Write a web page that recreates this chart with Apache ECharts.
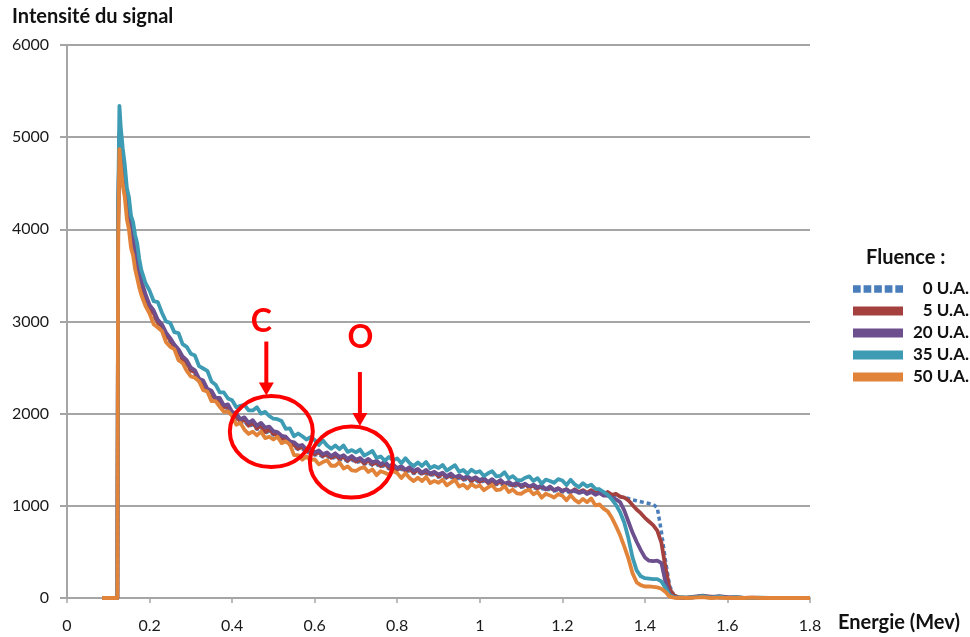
<!DOCTYPE html>
<html><head><meta charset="utf-8">
<script src="https://cdn.jsdelivr.net/npm/echarts@6/dist/echarts.min.js"></script>
<style>html,body{margin:0;padding:0;background:#fff}#c{width:970px;height:637px}</style>
</head><body><div id="c"></div>
<script>
// Energy (MeV) sample positions
const energy = [0.085, 0.122, 0.124, 0.127, 0.13, 0.135, 0.14, 0.145, 0.15, 0.155, 0.16, 0.165, 0.17, 0.175, 0.18,
  0.19,
  0.20, 0.21, 0.22, 0.23, 0.24, 0.25, 0.26, 0.27, 0.28, 0.29,
  0.30, 0.31, 0.32, 0.33, 0.34, 0.35, 0.36, 0.37, 0.38, 0.39,
  0.40, 0.41, 0.42, 0.43, 0.44, 0.45, 0.46, 0.47, 0.48, 0.49,
  0.50, 0.51, 0.52, 0.53, 0.54, 0.55, 0.56, 0.57, 0.58, 0.59,
  0.60, 0.61, 0.62, 0.63, 0.64, 0.65, 0.66, 0.67, 0.68, 0.69,
  0.70, 0.71, 0.72, 0.73, 0.74, 0.75, 0.76, 0.77, 0.78, 0.79,
  0.80, 0.81, 0.82, 0.83, 0.84, 0.85, 0.86, 0.87, 0.88, 0.89,
  0.90, 0.91, 0.92, 0.93, 0.94, 0.95, 0.96, 0.97, 0.98, 0.99,
  1.00, 1.01, 1.02, 1.03, 1.04, 1.05, 1.06, 1.07, 1.08, 1.09,
  1.10, 1.11, 1.12, 1.13, 1.14, 1.15, 1.16, 1.17, 1.18, 1.19,
  1.20, 1.21, 1.22, 1.23, 1.24, 1.25, 1.26, 1.27, 1.28, 1.29,
  1.30, 1.31, 1.32, 1.33, 1.34, 1.35, 1.36, 1.37, 1.38, 1.39,
  1.40, 1.41, 1.42, 1.43, 1.44, 1.45, 1.46, 1.47, 1.48, 1.49,
  1.50,
  1.52, 1.54, 1.56, 1.58, 1.60, 1.62, 1.64, 1.66, 1.68, 1.70, 1.72, 1.74, 1.76, 1.78, 1.80];

// Signal intensity per fluence
const fluence0 = [0, 0, 4000, 4950, 4800, 4620, 4450, 4220, 4090, 3920, 3820, 3690, 3580, 3490, 3380,
  3250,
  3150, 3070, 2980, 2930, 2840, 2780, 2710, 2660, 2580, 2540,
  2460, 2430, 2350, 2320, 2240, 2210, 2140, 2130, 2060, 2060,
  1990, 1950, 1900, 1920, 1860, 1880, 1830, 1850, 1790, 1810,
  1770, 1750, 1720, 1700, 1660, 1640, 1610, 1620, 1580, 1580,
  1550, 1560, 1530, 1540, 1510, 1530, 1500, 1510, 1480, 1500,
  1470, 1480, 1450, 1470, 1440, 1450, 1420, 1440, 1400, 1410,
  1380, 1400, 1370, 1380, 1350, 1370, 1340, 1350, 1330, 1340,
  1310, 1330, 1300, 1310, 1290, 1300, 1280, 1290, 1260, 1280,
  1250, 1270, 1240, 1250, 1230, 1240, 1220, 1230, 1210, 1220,
  1200, 1210, 1190, 1200, 1180, 1190, 1170, 1180, 1160, 1170,
  1150, 1160, 1140, 1160, 1140, 1150, 1130, 1150, 1130, 1140,
  1120, 1130, 1110, 1110, 1100, 1090, 1080, 1065, 1055, 1045,
  1035, 1025, 1015, 980, 720, 400, 130, 30, 5, 0,
  0,
  5, 10, 5, 0, 5, 0, 0, 0, 0, 0, 0, 0, 0, 0, 0];

const fluence5 = [0, 0, 4050, 5000, 4850, 4650, 4480, 4250, 4120, 3950, 3850, 3720, 3610, 3510, 3400,
  3270,
  3160, 3090, 2990, 2950, 2850, 2800, 2720, 2680, 2590, 2560,
  2470, 2450, 2360, 2340, 2250, 2230, 2150, 2150, 2070, 2080,
  2000, 1970, 1910, 1940, 1870, 1900, 1840, 1870, 1800, 1830,
  1780, 1770, 1730, 1720, 1670, 1660, 1620, 1640, 1590, 1600,
  1560, 1580, 1540, 1560, 1520, 1550, 1510, 1530, 1490, 1520,
  1480, 1500, 1460, 1490, 1450, 1470, 1430, 1460, 1410, 1430,
  1390, 1420, 1380, 1400, 1360, 1390, 1350, 1370, 1340, 1360,
  1320, 1350, 1310, 1330, 1300, 1320, 1290, 1310, 1270, 1300,
  1260, 1290, 1250, 1270, 1240, 1260, 1230, 1250, 1220, 1240,
  1210, 1230, 1200, 1220, 1190, 1210, 1180, 1200, 1170, 1190,
  1160, 1180, 1150, 1180, 1150, 1170, 1140, 1170, 1140, 1160,
  1130, 1150, 1120, 1130, 1100, 1090, 1060, 1010, 960, 920,
  870, 830, 790, 730, 600, 330, 100, 30, 10, 5,
  0,
  10, 20, 15, 10, 5, 10, 0, 5, 0, 0, 0, 0, 0, 0, 0];

const fluence20 = [0, 0, 4100, 5050, 4900, 4700, 4520, 4300, 4170, 3990, 3900, 3760, 3660, 3550, 3440,
  3300,
  3180, 3120, 3020, 2970, 2880, 2820, 2750, 2700, 2620, 2580,
  2500, 2470, 2380, 2360, 2270, 2250, 2170, 2170, 2090, 2100,
  2020, 2000, 1940, 1960, 1900, 1930, 1870, 1900, 1850, 1860,
  1810, 1800, 1760, 1750, 1700, 1690, 1650, 1660, 1610, 1620,
  1580, 1600, 1560, 1580, 1540, 1570, 1530, 1550, 1510, 1540,
  1500, 1520, 1480, 1510, 1470, 1490, 1450, 1480, 1430, 1450,
  1410, 1430, 1390, 1420, 1380, 1400, 1360, 1390, 1350, 1370,
  1340, 1360, 1320, 1350, 1310, 1330, 1300, 1320, 1290, 1310,
  1280, 1300, 1260, 1290, 1250, 1280, 1240, 1260, 1230, 1250,
  1220, 1240, 1210, 1230, 1200, 1220, 1180, 1210, 1170, 1190,
  1160, 1180, 1150, 1170, 1140, 1160, 1130, 1150, 1120, 1140,
  1110, 1110, 1090, 1070, 1040, 950, 830, 710, 610, 520,
  440, 405, 400, 405, 380, 170, 35, 10, 5, 0,
  5,
  15, 25, 10, 20, 10, 5, 0, 0, 0, 0, 0, 0, 0, 0, 0];

const fluence35 = [0, 0, 4300, 5340, 5120, 4880, 4700, 4450, 4350, 4150, 4080, 3940, 3850, 3680, 3560,
  3420,
  3335, 3220, 3210, 3095, 3000, 2985, 2885, 2875, 2755, 2725,
  2650, 2630, 2515, 2490, 2465, 2350, 2315, 2230, 2230, 2165,
  2145, 2070, 2085, 2095, 2035, 2035, 2070, 2000, 2020, 1975,
  1945, 1940, 1920, 1835, 1840, 1755, 1785, 1755, 1720, 1745,
  1715, 1660, 1710, 1655, 1620, 1655, 1615, 1655, 1585, 1605,
  1580, 1610, 1545, 1570, 1595, 1520, 1535, 1490, 1530, 1495,
  1515, 1463, 1516, 1464, 1432, 1470, 1433, 1476, 1409, 1432,
  1410, 1444, 1383, 1412, 1441, 1370, 1389, 1348, 1392, 1361,
  1375, 1324, 1353, 1377, 1321, 1325, 1364, 1298, 1322, 1281,
  1275, 1305, 1320, 1270, 1300, 1240, 1285, 1270, 1250, 1290,
  1275, 1226, 1282, 1233, 1204, 1245, 1210, 1230, 1185, 1180,
  1150, 1120, 1070, 1010, 930, 820, 650, 440, 300, 235,
  215, 210, 205, 205, 180, 110, 30, 10, 5, 10,
  5,
  10, 20, 5, 15, 0, 10, 0, 0, 5, 0, 0, 0, 0, 0, 0];

const fluence50 = [0, 0, 3900, 4870, 4700, 4480, 4350, 4110, 4000, 3800, 3720, 3570, 3470, 3370, 3290,
  3170,
  3085, 2970, 2935, 2895, 2775, 2725, 2700, 2580, 2550, 2465,
  2405, 2390, 2350, 2255, 2240, 2135, 2135, 2075, 2020, 2025,
  1975, 1880, 1900, 1825, 1780, 1805, 1765, 1805, 1735, 1750,
  1720, 1750, 1680, 1700, 1665, 1550, 1550, 1500, 1535, 1495,
  1505, 1450, 1475, 1495, 1435, 1435, 1472, 1405, 1428, 1385,
  1378, 1406, 1419, 1367, 1395, 1333, 1376, 1359, 1337, 1375,
  1355, 1302, 1354, 1301, 1268, 1305, 1269, 1313, 1247, 1271,
  1250, 1284, 1223, 1252, 1281, 1210, 1230, 1190, 1235, 1205,
  1220, 1170, 1200, 1225, 1170, 1175, 1215, 1150, 1175, 1135,
  1130, 1160, 1175, 1125, 1152, 1089, 1131, 1113, 1090, 1127,
  1110, 1060, 1115, 1065, 1035, 1075, 1040, 1080, 1005, 1015,
  970, 940, 870, 780, 680, 560, 430, 270, 170, 140,
  125, 125, 120, 115, 100, 65, 15, 5, 0, 5,
  0,
  5, 10, 0, 5, 0, 0, 0, 5, 0, 0, 0, 0, 0, 0, 0];

const seriesNames = ['0 U.A.', '5 U.A.', '20 U.A.', '35 U.A.', '50 U.A.'];
const seriesValues = [fluence0, fluence5, fluence20, fluence35, fluence50];
const seriesColors = ['#4A7EBB', '#A4413E', '#6D4F8E', '#3D9BB3', '#E2833A'];
const yTicks = [0, 1000, 2000, 3000, 4000, 5000, 6000];

// Annotation anchors (data space): circle centres
const annotations = [
  { label: 'C', x: 0.495, y: 1806, arrowDx: -5, textDx: -10, textDy: -110 },
  { label: 'O', x: 0.689, y: 1475, arrowDx: 8.5, textDx: 9, textDy: -124 }
];

const FONT = 'Lato, "Open Sans", sans-serif';
const chart = echarts.init(document.getElementById('c'));

const series = seriesNames.map((name, i) => ({
  name: name,
  type: 'line',
  data: energy.map((x, j) => [x, seriesValues[i][j]]),
  showSymbol: false,
  symbol: 'none',
  smooth: false,
  z: 2 + i,
  itemStyle: { color: seriesColors[i] },
  lineStyle: i === 0
    ? { color: seriesColors[i], width: 3.5, type: [4, 3], cap: 'butt' }
    : { color: seriesColors[i], width: 3.8, join: 'round' },
  emphasis: { disabled: true }
}));

chart.setOption({
  animation: false,
  backgroundColor: '#fff',
  title: {
    text: 'Fluence :', left: 861, top: 243,
    textStyle: { fontFamily: FONT, fontWeight: 'bold', fontSize: 20, color: '#111' }
  },
  legend: {
    orient: 'vertical', left: 848, top: 274,
    itemWidth: 50, itemHeight: 9, itemGap: 2,
    data: [
      { name: '0 U.A.', icon: 'path://M0,0H8V8H0Z M11,0H19V8H11Z M22,0H30V8H22Z M33,0H41V8H33Z M44,0H52V8H44Z' },
      { name: '5 U.A.', icon: 'rect' },
      { name: '20 U.A.', icon: 'rect' },
      { name: '35 U.A.', icon: 'rect' },
      { name: '50 U.A.', icon: 'rect' }
    ],
    formatter: n => '{r|' + n + '}',
    textStyle: {
      fontFamily: FONT, fontWeight: 'bold', fontSize: 17, color: '#111',
      rich: { r: { width: 61, align: 'right', fontFamily: FONT, fontWeight: 'bold', fontSize: 17, color: '#111', lineHeight: 20, height: 20 } }
    }
  },
  grid: { left: 67, right: 160, top: 45, bottom: 39, containLabel: false },
  xAxis: {
    type: 'value', min: 0, max: 1.8, interval: 0.2,
    name: 'Energie (Mev)', nameLocation: 'end', nameGap: 28,
    nameTextStyle: { fontFamily: FONT, fontWeight: 'bold', fontSize: 20, color: '#111', align: 'left', verticalAlign: 'top', padding: [15, 0, 0, 0] },
    axisLine: { show: true, lineStyle: { color: '#A5A5A5', width: 2 } },
    axisTick: { show: true, length: 5, lineStyle: { color: '#A5A5A5', width: 1.5 } },
    axisLabel: { fontFamily: FONT, fontSize: 16, color: '#1a1a1a', margin: 20 },
    splitLine: { show: false }
  },
  yAxis: {
    type: 'value', min: yTicks[0], max: yTicks[yTicks.length - 1], interval: 1000,
    name: 'Intensité du signal', nameLocation: 'end', nameGap: 28,
    nameTextStyle: { fontFamily: FONT, fontWeight: 'bold', fontSize: 20, color: '#111', align: 'left', verticalAlign: 'middle', padding: [0, 0, 0, -55] },
    axisLine: { show: true, lineStyle: { color: '#A5A5A5', width: 2 } },
    axisTick: { show: true, length: 7, lineStyle: { color: '#A5A5A5', width: 2 } },
    axisLabel: { fontFamily: FONT, fontSize: 16, color: '#1a1a1a', margin: 18, formatter: v => String(v) },
    splitLine: { show: true, lineStyle: { color: '#A5A5A5', width: 2 } }
  },
  series: series
});

// Red annotations anchored to data coordinates
const red = '#FF0000';
const graphics = [];
annotations.forEach(a => {
  const p = chart.convertToPixel({ gridIndex: 0 }, [a.x, a.y]);
  const cx = p[0], cy = p[1];
  const ax = cx + a.arrowDx;
  graphics.push({
    type: 'ellipse', z: 100,
    shape: { cx: cx, cy: cy, rx: 41.5, ry: 35.5 },
    style: { fill: 'transparent', stroke: red, lineWidth: 4 }
  });
  graphics.push({
    type: 'line', z: 100,
    shape: { x1: ax, y1: cy - 90, x2: ax, y2: cy - 47 },
    style: { stroke: red, lineWidth: 4 }
  });
  graphics.push({
    type: 'polygon', z: 100,
    shape: { points: [[ax - 7.5, cy - 49], [ax + 7.5, cy - 49], [ax, cy - 36]] },
    style: { fill: red }
  });
  graphics.push({
    type: 'text', z: 100,
    x: cx + a.textDx, y: cy + a.textDy,
    style: { text: a.label, fill: red, font: 'bold 32px ' + FONT, align: 'center', verticalAlign: 'middle' }
  });
});
chart.setOption({ graphic: graphics });
</script>
</body></html>
